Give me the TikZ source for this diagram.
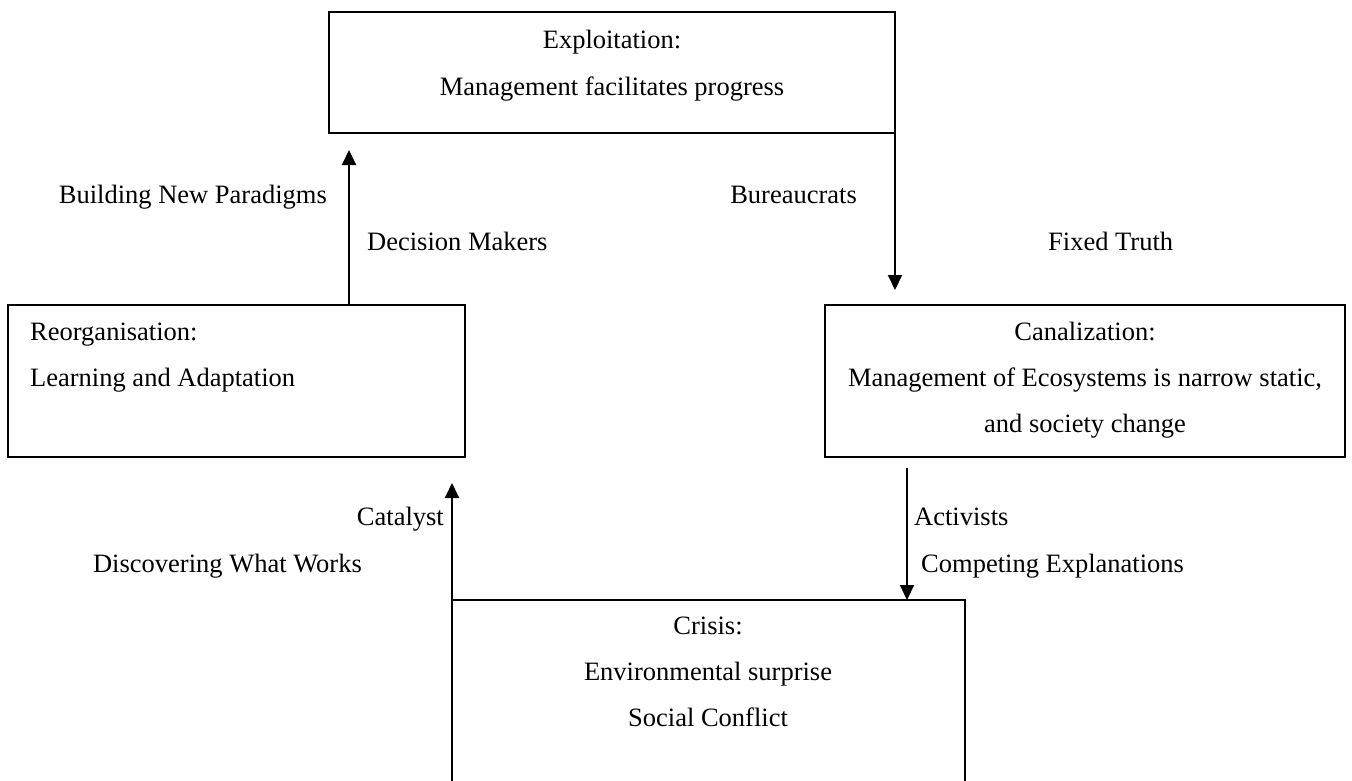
\documentclass[tikz,border=0pt]{standalone}
\usepackage{fontspec}
\setmainfont{Liberation Serif}
\usetikzlibrary{arrows.meta}
\begin{document}
\begin{tikzpicture}[x=1pt,y=-1pt,
  box/.style={draw, line width=2.2pt, inner sep=0pt, outer sep=0pt, anchor=north west},
  txt/.style={inner sep=0pt, font=\fontsize{26.5}{30}\selectfont},
  arr/.style={line width=2pt, -{Triangle[length=15pt,width=14pt]}}]
\path[use as bounding box] (0,0) rectangle (1352,780);
\clip (0,0) rectangle (1352,780);
\fill[white] (0,0) rectangle (1352,780);
% boxes
\node[box, minimum width=566pt, minimum height=121pt] (expl) at (329,12) {};
\node[box, minimum width=457pt, minimum height=152pt] (reorg) at (8,305) {};
\node[box, minimum width=520pt, minimum height=152pt] (canal) at (825,305) {};
\node[box, minimum width=513pt, minimum height=220pt] (crisis) at (452,600) {};
% box texts
\node[txt, anchor=base] (e1) at (612,48) {Exploitation:};
\node[txt, anchor=base] (e2) at (612,95) {Management facilitates progress};
\node[txt, anchor=base west] (r1) at (30,340) {Reorganisation:};
\node[txt, anchor=base west] (r2) at (30,386) {Learning and Adaptation};
\node[txt, anchor=base] (c1) at (1085,340) {Canalization:};
\node[txt, anchor=base] (c2) at (1085,386) {Management of Ecosystems is narrow static,};
\node[txt, anchor=base] (c3) at (1085,432) {and society change};
\node[txt, anchor=base] (k1) at (708,634) {Crisis:};
\node[txt, anchor=base] (k2) at (708,680) {Environmental surprise};
\node[txt, anchor=base] (k3) at (708,726) {Social Conflict};
% labels
\node[txt, anchor=base east] (l1) at (327,203) {Building New Paradigms};
\node[txt, anchor=base west] (l2) at (367,250) {Decision Makers};
\node[txt, anchor=base east] (l3) at (857,203) {Bureaucrats};
\node[txt, anchor=base west] (l4) at (1048,250) {Fixed Truth};
\node[txt, anchor=base east] (l5) at (444,525) {Catalyst};
\node[txt, anchor=base east] (l6) at (362,572) {Discovering What Works};
\node[txt, anchor=base west] (l7) at (914,525) {Activists};
\node[txt, anchor=base west] (l8) at (921,572) {Competing Explanations};
% arrows
\coordinate (t1) at (349,150);
\draw[arr] (reorg.north -| t1) -- (t1);
\coordinate (t2) at (895,290);
\draw[arr] (expl.south east) -- (t2);
\coordinate (t3) at (452,483);
\draw[arr] (crisis.north west) -- (t3);
\coordinate (s4) at (907,468);
\draw[arr] (s4) -- (crisis.north -| s4);
\end{tikzpicture}
\end{document}
